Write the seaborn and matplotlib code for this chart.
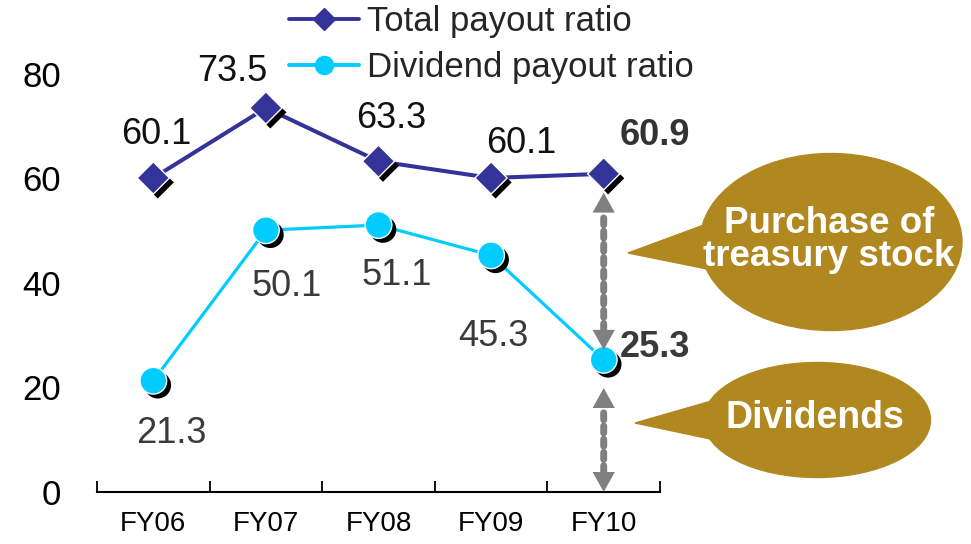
# Payout ratio chart: total vs dividend payout, FY06-FY10
import numpy as np
import pandas as pd
import matplotlib
matplotlib.use("Agg")
import matplotlib.pyplot as plt
import matplotlib.patheffects as pe
from matplotlib.patches import Ellipse, Polygon
from matplotlib.lines import Line2D
import seaborn as sns

fiscal_years = ["FY06", "FY07", "FY08", "FY09", "FY10"]
total_payout = [60.1, 73.5, 63.3, 60.1, 60.9]
dividend_payout = [21.3, 50.1, 51.1, 45.3, 25.3]
y_ticks = [0, 20, 40, 60, 80]
# FY10 gap arrows: (top tip, bottom tip)
arrow_spans = [(57.3, 27.2), (19.9, 0.0)]

navy = "#333399"
cyan = "#00CCFF"
gold = "#B1871F"
grey = "#808080"

sns.set_theme(style="white")
plt.rcParams["font.family"] = ["Liberation Sans", "DejaVu Sans"]

fig = plt.figure(figsize=(9.71, 5.44), dpi=100)
ax = fig.add_axes([97 / 971, 1 - 492 / 544, (660 - 97) / 971, (492 - 74) / 544])

x = np.arange(len(fiscal_years))
df = pd.DataFrame({"x": x, "total": total_payout, "div": dividend_payout})

sns.lineplot(data=df, x="x", y="total", color=navy, lw=2.9, ax=ax, zorder=2)
sns.lineplot(data=df, x="x", y="div", color=cyan, lw=2.3, ax=ax, zorder=2)

shadow = [pe.SimplePatchShadow(offset=(3.2, -3.2), shadow_rgbFace="black", alpha=1), pe.Normal()]
sns.scatterplot(data=df, x="x", y="total", marker="D", s=270, color=navy,
                edgecolor="white", linewidth=1, ax=ax, zorder=3, clip_on=False)
sns.scatterplot(data=df, x="x", y="div", marker="o", s=370, color=cyan,
                edgecolor="white", linewidth=1, ax=ax, zorder=3, clip_on=False)
for coll in ax.collections:
    coll.set_path_effects(shadow)

# value labels (pixel offsets from the points)
total_off = [(3, 43), (-34, 36), (13, 43), (30, 34), (51, 38)]
div_off = [(18, -53), (21, -56), (18, -50), (2, -81), (51, 12)]
for i in range(len(fiscal_years)):
    last = i == len(fiscal_years) - 1
    ax.annotate(f"{total_payout[i]:.1f}", (x[i], total_payout[i]), xytext=total_off[i],
                textcoords="offset pixels", ha="center", va="center", fontsize=26,
                color="#333333" if last else "#111111", fontweight="bold" if last else "normal")
    ax.annotate(f"{dividend_payout[i]:.1f}", (x[i], dividend_payout[i]), xytext=div_off[i],
                textcoords="offset pixels", ha="center", va="center", fontsize=26,
                color="#3a3a3a", fontweight="bold" if last else "normal")

# dotted double arrows at FY10: solid heads + square-dotted shaft
for top, bottom in arrow_spans:
    ax.annotate("", xy=(4, top), xytext=(4, bottom),
                arrowprops=dict(arrowstyle="<|-|>,head_length=0.9,head_width=0.5", color=grey,
                                lw=0, shrinkA=0, shrinkB=0, mutation_scale=16))
    ax.annotate("", xy=(4, top), xytext=(4, bottom),
                arrowprops=dict(arrowstyle="-", color=grey, lw=5, linestyle=(0, (1, 0.9)),
                                shrinkA=14, shrinkB=14))

ax.set_xlim(-0.5, 4.5)
ax.set_ylim(0, 80)
ax.set_yticks(y_ticks)
ax.set_yticklabels([str(v) for v in y_ticks], fontsize=25, color="black")
ax.set_xticks(x)
ax.set_xticklabels(fiscal_years, fontsize=20, color="black")
ax.set_xticks(np.arange(-0.5, 5, 1), minor=True)
ax.tick_params(axis="x", which="major", length=0, pad=14)
ax.tick_params(axis="x", which="minor", direction="in", length=8, width=1.3, color="black", bottom=True)
ax.tick_params(axis="y", length=0, pad=26)
ax.set_xlabel("")
ax.set_ylabel("")
for side in ["top", "right", "left"]:
    ax.spines[side].set_visible(False)
ax.spines["bottom"].set_color("black")
ax.spines["bottom"].set_linewidth(1.5)

# legend
handles = [
    Line2D([], [], color=navy, lw=2.8, marker="D", markersize=11, markeredgecolor=navy),
    Line2D([], [], color=cyan, lw=2.8, marker="o", markersize=13, markeredgecolor=cyan),
]
fig.legend(handles, ["Total payout ratio", "Dividend payout ratio"], loc="upper left",
           bbox_to_anchor=(265 / 971, 1.035), frameon=False, fontsize=25,
           handlelength=2.0, handletextpad=0.25, labelspacing=0.38, borderpad=0.2)

# callout bubbles in figure pixel space
ov = fig.add_axes([0, 0, 1, 1], zorder=5)
ov.set_xlim(0, 971)
ov.set_ylim(544, 0)
ov.axis("off")
ov.patch.set_alpha(0)

ov.add_patch(Ellipse((831, 242), 262, 177, color=gold))
ov.add_patch(Polygon([(628, 253), (712, 222), (712, 270)], closed=True, color=gold))
ov.text(829, 240, "Purchase of\ntreasury stock", color="white", fontsize=26.5,
        fontweight="bold", ha="center", va="center", linespacing=0.95)

ov.add_patch(Ellipse((817, 420), 227, 115, color=gold))
ov.add_patch(Polygon([(635, 423), (715, 400), (715, 440)], closed=True, color=gold))
ov.text(815, 418, "Dividends", color="white", fontsize=27, fontweight="bold",
        ha="center", va="center")

fig.savefig("out.png", dpi=100)
